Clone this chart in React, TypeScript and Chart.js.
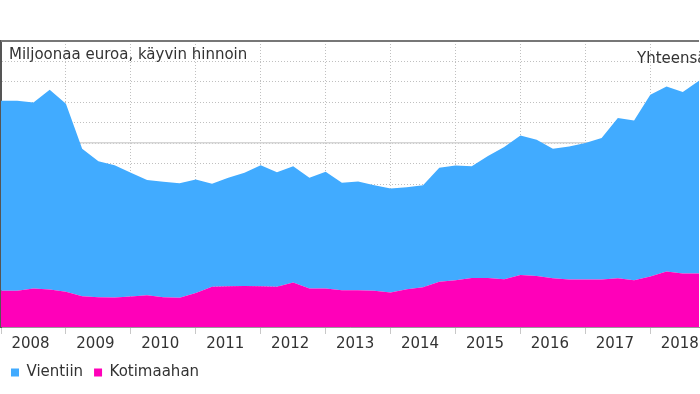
import React, { useEffect, useRef } from 'react';
import { Chart, registerables } from 'chart.js';

Chart.register(...registerables);

// ---- data (quarterly, 2008Q1 .. 2018Q4) ----
const years = ['2008', '2009', '2010', '2011', '2012', '2013', '2014', '2015', '2016', '2017', '2018'];
const quarters = ['Q1', 'Q2', 'Q3', 'Q4'];

const kotimaahan = [
  277, 277, 289, 284,
  272, 251, 246, 245,
  249, 256, 246, 243,
  266, 297, 299, 301,
  299, 297, 318, 289,
  289, 280, 280, 277,
  269, 285, 294, 321,
  329, 340, 340, 334,
  354, 350, 339, 333,
  333, 333, 339, 329,
  347, 372, 362, 362,
];

const vientiin = [
  930, 930, 910, 977,
  921, 722, 665, 647,
  606, 563, 565, 561,
  556, 504, 531, 554,
  593, 561, 569, 541,
  571, 526, 532, 517,
  509, 499, 500, 558,
  561, 547, 597, 647,
  683, 667, 633, 651,
  668, 692, 784, 782,
  890, 905, 888, 944,
];

const yMin = 100;
const yMax = 1500;
const yStep = 100;
const yMajorTicks = [500, 1000, 1500];

const unitText = 'Miljoonaa euroa, käyvin hinnoin';
const totalText = 'Yhteensä';
const seriesNames = { export: 'Vientiin', domestic: 'Kotimaahan' };

const BLUE = '#41abff';
const MAGENTA = '#ff00b9';
const TEXT = '#333333';
const FONT = '"DejaVu Sans", Verdana, sans-serif';
const FS = 15;

const labels: string[] = [];
years.forEach((y) => quarters.forEach((q) => labels.push(`${y}${q}`)));

const textPlugin = {
  id: 'innerTexts',
  afterDraw(chart: any) {
    const { ctx, chartArea } = chart;
    ctx.save();
    // top frame line
    ctx.strokeStyle = '#777777';
    ctx.lineWidth = 2;
    ctx.beginPath();
    ctx.moveTo(chartArea.left, chartArea.top);
    ctx.lineTo(chartArea.right, chartArea.top);
    ctx.stroke();
    ctx.fillStyle = TEXT;
    ctx.font = `${FS}px ${FONT}`;
    ctx.textBaseline = 'alphabetic';
    ctx.textAlign = 'left';
    ctx.fillText(unitText, chartArea.left + 8, chartArea.top + 18);
    ctx.fillText(totalText, chartArea.left + 636, chartArea.top + 22);
    ctx.restore();
  },
};

function AreaChart() {
  const ref = useRef<HTMLCanvasElement | null>(null);
  useEffect(() => {
    if (!ref.current) return;
    const chart = new Chart(ref.current, {
      type: 'line',
      data: {
        labels,
        datasets: [
          {
            label: seriesNames.domestic,
            data: kotimaahan,
            backgroundColor: MAGENTA,
            borderColor: MAGENTA,
            borderWidth: 0,
            pointRadius: 0,
            tension: 0,
            fill: 'origin',
            yAxisID: 'y',
          },
          {
            label: seriesNames.export,
            data: vientiin,
            backgroundColor: BLUE,
            borderColor: BLUE,
            borderWidth: 0,
            pointRadius: 0,
            tension: 0,
            fill: '-1',
            yAxisID: 'y',
          },
        ],
      },
      options: {
        responsive: false,
        animation: false,
        devicePixelRatio: 1,
        layout: { padding: { top: 41, left: 0, right: 0, bottom: 4 } },
        plugins: {
          tooltip: { enabled: false },
          title: { display: false },
          legend: {
            display: true,
            position: 'bottom',
            align: 'start',
            reverse: true,
            labels: {
              boxWidth: 8,
              boxHeight: 8,
              padding: 11,
              color: TEXT,
              font: { family: FONT, size: FS },
            },
          },
        },
        scales: {
          x: {
            type: 'category',
            offset: false,
            ticks: {
              autoSkip: false,
              maxRotation: 0,
              minRotation: 0,
              padding: 1,
              labelOffset: -3,
              color: TEXT,
              font: { family: FONT, size: FS },
              callback: (_v: any, i: number) => (i % 4 === 2 ? years[Math.floor(i / 4)] : ''),
            },
            grid: {
              color: (c: any) => (c.index % 4 === 0 ? '#c0c0c0' : 'transparent'),
              tickColor: (c: any) => (c.index % 4 === 0 ? '#c8c8c8' : 'transparent'),
              tickLength: 7,
              lineWidth: 1,
            },
            border: { display: true, color: '#999999', width: 1, dash: [1, 2] },
          },
          y: {
            type: 'linear',
            stacked: true,
            min: yMin,
            max: yMax,
            position: 'left',
            ticks: { display: false, stepSize: yStep },
            grid: { color: '#c0c0c0', lineWidth: 1, drawTicks: false },
            border: { display: true, color: '#555555', width: 2, dash: [1, 2] },
          },
          y2: {
            type: 'linear',
            min: yMin,
            max: yMax,
            position: 'left',
            afterBuildTicks: (axis: any) => {
              axis.ticks = yMajorTicks.map((v) => ({ value: v }));
            },
            ticks: { display: false },
            grid: { color: '#d6d6d6', lineWidth: 1.5, drawTicks: false },
            border: { display: false },
          },
        },
      },
      plugins: [textPlugin],
    } as any);
    return () => chart.destroy();
  }, []);
  return <canvas ref={ref} width={700} height={394} style={{ display: 'block' }} />;
}

export default function App() {
  return (
    <div
      style={{
        position: 'fixed',
        left: 0,
        top: 0,
        width: 700,
        height: 394,
        overflow: 'hidden',
        background: '#ffffff',
      }}
    >
      <AreaChart />
    </div>
  );
}
